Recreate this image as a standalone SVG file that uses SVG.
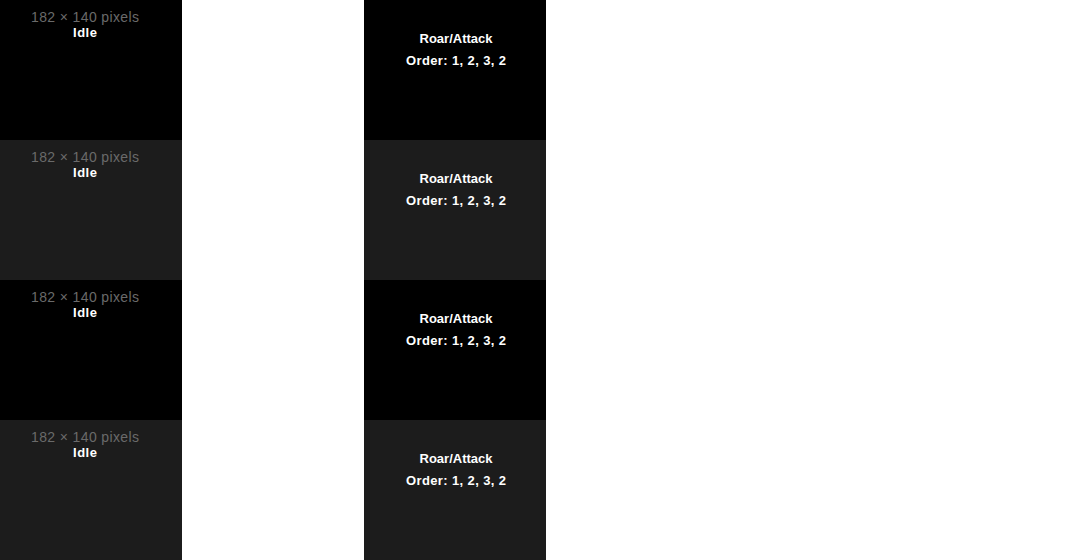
<svg xmlns="http://www.w3.org/2000/svg" width="1092" height="560" viewBox="0 0 1092 560">
<style>
.bk{fill:#000}
.dg{fill:#1c1c1c}
.dim{font-family:"Liberation Sans",Arial,sans-serif;font-size:14px;fill:#6a6a6a;text-anchor:middle}
.lb{font-family:"Liberation Sans",Arial,sans-serif;font-size:13px;font-weight:bold;fill:#fff;text-anchor:middle}
</style>
<rect width="1092" height="560" fill="#fff"/>
<g id="idle1"><rect class="bk" x="0" y="0" width="182" height="140"/><text class="dim" x="85" y="22" textLength="108">182 × 140 pixels</text><text class="lb" x="85" y="37" textLength="24">Idle</text></g>
<g id="idle2"><rect class="dg" x="0" y="140" width="182" height="140"/><text class="dim" x="85" y="162" textLength="108">182 × 140 pixels</text><text class="lb" x="85" y="177" textLength="24">Idle</text></g>
<g id="idle3"><rect class="bk" x="0" y="280" width="182" height="140"/><text class="dim" x="85" y="302" textLength="108">182 × 140 pixels</text><text class="lb" x="85" y="317" textLength="24">Idle</text></g>
<g id="idle4"><rect class="dg" x="0" y="420" width="182" height="140"/><text class="dim" x="85" y="442" textLength="108">182 × 140 pixels</text><text class="lb" x="85" y="457" textLength="24">Idle</text></g>
<g id="roar1"><rect class="bk" x="364" y="0" width="182" height="140"/><text class="lb" x="456" y="43">Roar/Attack</text><text class="lb" x="456" y="65" textLength="100">Order: 1, 2, 3, 2</text></g>
<g id="roar2"><rect class="dg" x="364" y="140" width="182" height="140"/><text class="lb" x="456" y="183">Roar/Attack</text><text class="lb" x="456" y="205" textLength="100">Order: 1, 2, 3, 2</text></g>
<g id="roar3"><rect class="bk" x="364" y="280" width="182" height="140"/><text class="lb" x="456" y="323">Roar/Attack</text><text class="lb" x="456" y="345" textLength="100">Order: 1, 2, 3, 2</text></g>
<g id="roar4"><rect class="dg" x="364" y="420" width="182" height="140"/><text class="lb" x="456" y="463">Roar/Attack</text><text class="lb" x="456" y="485" textLength="100">Order: 1, 2, 3, 2</text></g>
<g id="connectors"></g>
</svg>
